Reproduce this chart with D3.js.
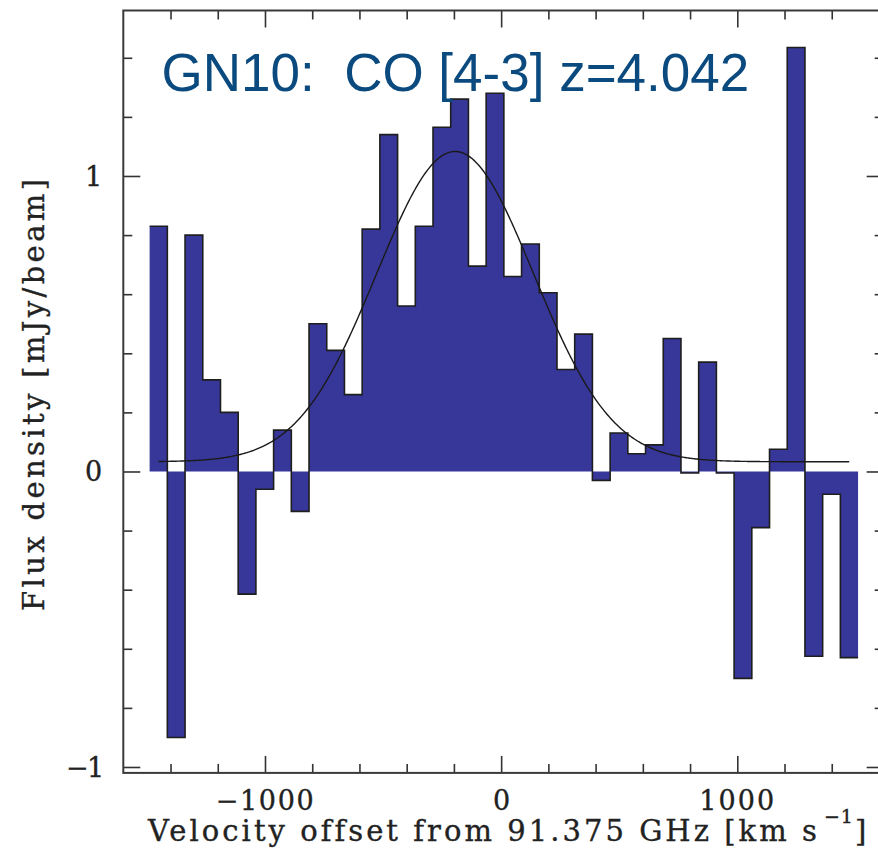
<!DOCTYPE html>
<html>
<head>
<meta charset="utf-8">
<script src="https://cdn.jsdelivr.net/npm/d3@7"></script>
<style>
  html, body { margin: 0; padding: 0; background: #fff; }
  svg { display: block; }
  .axis-font { font-family: "DejaVu Serif", "Liberation Serif", "Times New Roman", serif; fill: #222; stroke: #222; stroke-width: 0.35px; }
</style>
</head>
<body>
<svg id="chart" width="878" height="860"></svg>
<script>
// Channel centres of the CO(4-3) spectrum [km/s] and flux density per channel [mJy/beam]
const velocity = [-1451, -1376, -1301, -1226, -1151, -1076, -1001, -926, -851, -776,
                  -701, -626, -551, -476, -401, -326, -251, -176, -101, -26,
                  49, 124, 199, 274, 349, 424, 499, 574, 649, 724,
                  799, 874, 949, 1024, 1099, 1174, 1249, 1324, 1399, 1474];
const flux = [0.83, -0.90, 0.80, 0.31, 0.20, -0.415, -0.06, 0.14, -0.135, 0.50,
              0.41, 0.26, 0.82, 1.14, 0.56, 0.83, 1.165, 1.26, 0.695, 1.28,
              0.66, 0.77, 0.605, 0.345, 0.465, -0.03, 0.13, 0.06, 0.09, 0.45,
              -0.005, 0.37, -0.005, -0.70, -0.19, 0.075, 1.435, -0.625, -0.077, -0.63];

// Best-fit Gaussian line profile (on a constant continuum level)
const fitCentre = -195;     // km/s
const fitSigma = 332;       // km/s
const fitAmplitude = 1.05;  // mJy/beam
const fitContinuum = 0.033; // mJy/beam

// Axis ticks
const xMajorTicks = [-1000, 0, 1000];
const xMinorTicks = [-1400, -1200, -800, -600, -400, -200, 200, 400, 600, 800, 1200, 1400, 1600];
const yMajorTicks = [-1, 0, 1];
const yMinorTicks = [-0.8, -0.6, -0.4, -0.2, 0.2, 0.4, 0.6, 0.8, 1.2, 1.4];

const titleText = "GN10:  CO [4-3] z=4.042";
const xLabel = "Velocity offset from 91.375 GHz [km s";
const yLabel = "Flux density [mJy/beam]";

const svg = d3.select("#chart");

const frame = { left: 123.3, right: 883.7, top: 10.5, bottom: 772.9 };
const x = d3.scaleLinear().domain([-1600, 1620]).range([frame.left, frame.right]);
const y = d3.scaleLinear().domain([-1.02, 1.56]).range([frame.bottom, frame.top]);

const fillColor = "#37379a";
const inkColor = "#333";

// Step geometry: each channel spans half a channel width either side of its centre
const chanWidth = velocity[1] - velocity[0];
const steps = velocity.map((v, i) => ({ v: v - chanWidth / 2, f: flux[i] }));
steps.push({ v: velocity[velocity.length - 1] + chanWidth / 2, f: flux[flux.length - 1] });

const plot = svg.append("g");

plot.append("path")
  .datum(steps)
  .attr("fill", fillColor)
  .attr("stroke", "none")
  .attr("d", d3.area()
    .curve(d3.curveStepAfter)
    .x(d => x(d.v))
    .y0(y(0))
    .y1(d => y(d.f)));

plot.append("path")
  .datum(steps)
  .attr("fill", "none")
  .attr("stroke", "#1e1e1e")
  .attr("stroke-width", 1.6)
  .attr("d", d3.line()
    .curve(d3.curveStepAfter)
    .x(d => x(d.v))
    .y(d => y(d.f)));

// Gaussian fit, drawn across the span of channel centres
const fitV = d3.range(velocity[0], velocity[velocity.length - 1] + 1, 5);
plot.append("path")
  .datum(fitV)
  .attr("fill", "none")
  .attr("stroke", "#1a1a1a")
  .attr("stroke-width", 1.4)
  .attr("d", d3.line()
    .x(v => x(v))
    .y(v => y(fitContinuum + fitAmplitude * Math.exp(-0.5 * Math.pow((v - fitCentre) / fitSigma, 2)))));

// Axes: ticks point inwards on all four sides
function styleAxis(g) {
  g.select(".domain").remove();
  g.selectAll(".tick line").attr("stroke", inkColor).attr("stroke-width", 1.6);
}

const majorLen = 17, minorLen = 9;

svg.append("g").attr("transform", `translate(0,${frame.bottom})`)
  .call(d3.axisBottom(x).tickValues(xMajorTicks).tickSize(-majorLen).tickFormat(d3.format("d")))
  .call(styleAxis)
  .call(g => g.selectAll(".tick text")
    .attr("class", "axis-font xtick")
    .attr("y", 37).attr("dy", 0)
    .style("font-size", "27px"));
svg.append("g").attr("transform", `translate(0,${frame.bottom})`)
  .call(d3.axisBottom(x).tickValues(xMinorTicks.filter(v => x(v) < 878)).tickSize(-minorLen).tickFormat(""))
  .call(styleAxis);
svg.append("g").attr("transform", `translate(0,${frame.top})`)
  .call(d3.axisTop(x).tickValues(xMajorTicks).tickSize(-majorLen).tickFormat(""))
  .call(styleAxis);
svg.append("g").attr("transform", `translate(0,${frame.top})`)
  .call(d3.axisTop(x).tickValues(xMinorTicks).tickSize(-minorLen).tickFormat(""))
  .call(styleAxis);

svg.append("g").attr("transform", `translate(${frame.left},0)`)
  .call(d3.axisLeft(y).tickValues(yMajorTicks).tickSize(-majorLen).tickFormat(d3.format("d")))
  .call(styleAxis)
  .call(g => g.selectAll(".tick text")
    .attr("class", "axis-font ytick")
    .attr("x", -21).attr("dy", "0.34em")
    .attr("text-anchor", "end")
    .style("font-size", "27px"));
svg.append("g").attr("transform", `translate(${frame.left},0)`)
  .call(d3.axisLeft(y).tickValues(yMinorTicks).tickSize(-minorLen).tickFormat(""))
  .call(styleAxis);
svg.append("g").attr("transform", `translate(${frame.right},0)`)
  .call(d3.axisRight(y).tickValues(yMajorTicks).tickSize(-majorLen).tickFormat(""))
  .call(styleAxis);
svg.append("g").attr("transform", `translate(${frame.right},0)`)
  .call(d3.axisRight(y).tickValues(yMinorTicks).tickSize(-minorLen).tickFormat(""))
  .call(styleAxis);

// Plot frame
svg.append("rect")
  .attr("x", frame.left).attr("y", frame.top)
  .attr("width", frame.right - frame.left).attr("height", frame.bottom - frame.top)
  .attr("fill", "none").attr("stroke", "#3a3a3a").attr("stroke-width", 2);

// Spread glyphs so a label covers a given width
function spreadTo(textNode, width) {
  const n = textNode.getNumberOfChars();
  const natural = textNode.getComputedTextLength();
  const ls = (width - natural) / Math.max(1, n - 1);
  d3.select(textNode).style("letter-spacing", ls + "px");
}

svg.selectAll(".xtick").each(function() {
  const label = this.textContent;
  if (label.length > 1) spreadTo(this, label.length > 4 ? 98 : 75);
});
svg.selectAll(".ytick").each(function() {
  if (this.textContent.length > 1) spreadTo(this, 38);
});

// Axis titles
const xl = svg.append("text")
  .attr("class", "axis-font")
  .attr("x", 148).attr("y", 841)
  .style("font-size", "29px");
xl.append("tspan").text(xLabel);
spreadTo(xl.node(), 668);
xl.append("tspan").attr("dy", -18).attr("dx", 4).style("font-size", "19px").style("letter-spacing", "1px").text("\u22121");
xl.append("tspan").attr("dy", 18).attr("dx", 1).text("]");

const yl = svg.append("text")
  .attr("class", "axis-font")
  .attr("transform", "translate(44,611) rotate(-90)")
  .attr("x", 0).attr("y", 0)
  .style("font-size", "29px")
  .text(yLabel);
spreadTo(yl.node(), 432);

// Title
svg.append("text")
  .attr("x", 161.5).attr("y", 91)
  .style("font-family", "'Liberation Sans', Arial, Helvetica, sans-serif")
  .style("font-size", "53px")
  .style("white-space", "pre")
  .attr("fill", "#0a4a7e")
  .text(titleText);
</script>
</body>
</html>
